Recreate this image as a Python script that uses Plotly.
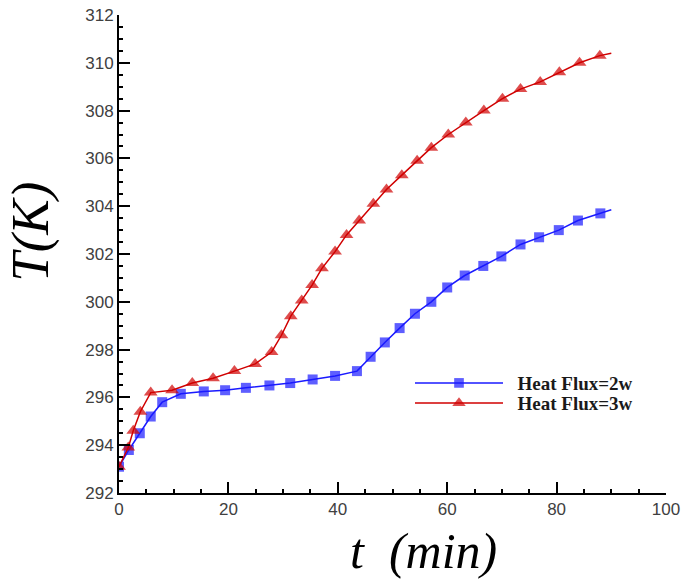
import plotly.graph_objects as go

# Time (min) and temperature (K) for the two heating powers
t_2w = [0, 1.8, 3.8, 5.8, 7.9, 11.3, 15.5, 19.4, 23.2, 27.5, 31.3, 35.4, 39.5, 43.5,
        46.0, 48.6, 51.3, 54.1, 57.1, 60.0, 63.2, 66.6, 69.9, 73.4, 76.8, 80.4, 83.9,
        88.0, 90.0]
T_2w = [293.1, 293.8, 294.5, 295.2, 295.8, 296.15, 296.25, 296.3, 296.4, 296.5, 296.6,
        296.75, 296.9, 297.1, 297.7, 298.3, 298.9, 299.5, 300.0, 300.6, 301.1, 301.5,
        301.9, 302.4, 302.7, 303.0, 303.4, 303.7, 303.85]

t_3w = [0, 1.7, 2.6, 3.9, 5.8, 9.7, 13.4, 17.2, 21.1, 24.9, 27.9, 29.7, 31.4, 33.4,
        35.3, 37.1, 39.5, 41.6, 43.9, 46.5, 48.9, 51.7, 54.5, 57.1, 60.2, 63.4, 66.7,
        70.1, 73.4, 77.0, 80.5, 84.2, 87.9, 90.0]
T_3w = [293.1, 293.9, 294.6, 295.4, 296.2, 296.3, 296.6, 296.8, 297.1, 297.4, 297.9,
        298.6, 299.4, 300.05, 300.7, 301.4, 302.1, 302.8, 303.4, 304.1, 304.7, 305.3,
        305.9, 306.45, 307.0, 307.5, 308.0, 308.5, 308.9, 309.2, 309.6, 310.0, 310.3,
        310.4]

x_ticks = [0, 20, 40, 60, 80, 100]
y_ticks = [292, 294, 296, 298, 300, 302, 304, 306, 308, 310, 312]

BLUE = "#1a1aff"
RED = "#d00000"
SERIF = "Liberation Serif, Times New Roman, serif"
SANS = "Liberation Sans, Arial, sans-serif"
NBSP = "\u00a0"


def marker_sizes(n, size):
    # the curve runs on past the last sample; that end point carries no marker
    return [size] * (n - 1) + [0]


fig = go.Figure()
fig.add_trace(go.Scatter(
    x=t_2w, y=T_2w, mode="lines+markers", name=NBSP * 2 + "Heat Flux=2w",
    line=dict(color=BLUE, width=1.5),
    marker=dict(symbol="square", color=BLUE, size=marker_sizes(len(t_2w), 10),
                line=dict(width=0)),
    legend="legend",
))
fig.add_trace(go.Scatter(
    x=t_3w, y=T_3w, mode="lines+markers", name=NBSP * 2 + "Heat Flux=3w",
    line=dict(color=RED, width=1.5),
    marker=dict(symbol="triangle-up", color=RED, size=marker_sizes(len(t_3w), 12),
                line=dict(width=0)),
    legend="legend2",
))

# left and bottom axes only, with long inside major ticks and short minor ticks
axis_common = dict(
    showline=True, linecolor="black", linewidth=2,
    ticks="inside", ticklen=11, tickwidth=2, tickcolor="black",
    showgrid=False, zeroline=False, mirror=False, automargin=False,
    tickmode="array",
    tickfont=dict(family=SANS, size=17, color="#404040"),
)

fig.update_xaxes(
    range=[0, 100], tickvals=x_ticks, ticktext=[str(v) for v in x_ticks],
    minor=dict(ticks="inside", ticklen=4, tickwidth=1.5, tickcolor="black",
               tickmode="linear", tick0=0, dtick=5, showgrid=False),
    **axis_common,
)
fig.update_yaxes(
    range=[292, 312], tickvals=y_ticks, ticktext=[str(v) for v in y_ticks],
    minor=dict(ticks="inside", ticklen=4, tickwidth=1.5, tickcolor="black",
               tickmode="linear", tick0=292, dtick=0.5, showgrid=False),
    **axis_common,
)

title_font = dict(family=SERIF, size=53, color="black", style="italic")
fig.add_annotation(text="t" + NBSP * 2 + "(min)", xref="paper", yref="paper",
                   x=0.556, y=-0.121, showarrow=False,
                   font=dict(title_font, size=50),
                   xanchor="center", yanchor="middle")
fig.add_annotation(text="T(K)", xref="paper", yref="paper",
                   x=-0.163, y=0.546, showarrow=False, font=title_font,
                   textangle=-90, xanchor="center", yanchor="middle")

legend_style = dict(
    xanchor="left", yanchor="middle",
    bgcolor="rgba(0,0,0,0)", borderwidth=0,
    font=dict(family=SERIF, size=19, color="#1a1a1a", weight="bold"),
    itemwidth=88,
)

fig.update_layout(
    width=681, height=586,
    margin=dict(l=119, r=15, t=15, b=93),
    paper_bgcolor="white", plot_bgcolor="white",
    showlegend=True,
    legend=dict(x=0.532, y=0.230, **legend_style),
    legend2=dict(x=0.532, y=0.188, **legend_style),
)

fig.write_html("out.html")
